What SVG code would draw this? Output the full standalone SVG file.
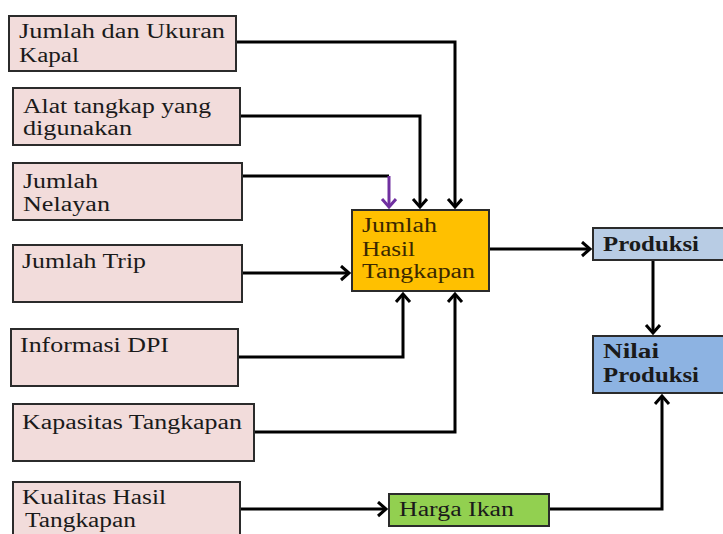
<svg xmlns="http://www.w3.org/2000/svg" width="723" height="534" viewBox="0 0 723 534">
<style>
.n{stroke:#2b2b2b;stroke-width:2}
.p{fill:#f2dcdb}
.t{font-family:"Liberation Serif",serif;font-size:20.5px;fill:#1a1a1a}
.b{font-weight:bold}
.c{fill:none;stroke:#000;stroke-width:3}
</style>
<defs>
<marker id="a" markerUnits="userSpaceOnUse" markerWidth="14" markerHeight="18" refX="10" refY="8" orient="auto"><path d="M2,1 L10,8 L2,15" fill="none" stroke="#000" stroke-width="3" stroke-linejoin="miter"/></marker>
<marker id="ap" markerUnits="userSpaceOnUse" markerWidth="14" markerHeight="18" refX="10" refY="8" orient="auto"><path d="M2,1 L10,8 L2,15" fill="none" stroke="#7030a0" stroke-width="3"/></marker>
</defs>
<g id="connectors">
<path class="c" d="M236,42 H455 V207" marker-end="url(#a)"/>
<path class="c" d="M240,116 H420 V207" marker-end="url(#a)"/>
<path class="c" d="M242,176 H389"/>
<path d="M389,176 V207" fill="none" stroke="#7030a0" stroke-width="3" marker-end="url(#ap)"/>
<path class="c" d="M242,273 H349" marker-end="url(#a)"/>
<path class="c" d="M238,357 H403 V294" marker-end="url(#a)"/>
<path class="c" d="M254,432 H455 V294" marker-end="url(#a)"/>
<path class="c" d="M489,249 H590" marker-end="url(#a)"/>
<path class="c" d="M653,260 V333" marker-end="url(#a)"/>
<path class="c" d="M240,509 H386" marker-end="url(#a)"/>
<path class="c" d="M549,509 H662 V396" marker-end="url(#a)"/>
</g>
<g id="n1"><rect class="n p" x="9" y="16" width="227" height="55"/><text class="t" x="19" y="38" textLength="206" lengthAdjust="spacingAndGlyphs">Jumlah dan Ukuran</text><text class="t" x="19" y="62" textLength="60" lengthAdjust="spacingAndGlyphs">Kapal</text></g>
<g id="n2"><rect class="n p" x="13" y="88" width="227" height="57"/><text class="t" x="23" y="113" textLength="188" lengthAdjust="spacingAndGlyphs">Alat tangkap yang</text><text class="t" x="23" y="135" textLength="109" lengthAdjust="spacingAndGlyphs">digunakan</text></g>
<g id="n3"><rect class="n p" x="13" y="163" width="229" height="57"/><text class="t" x="23" y="188" textLength="75" lengthAdjust="spacingAndGlyphs">Jumlah</text><text class="t" x="23" y="211" textLength="87" lengthAdjust="spacingAndGlyphs">Nelayan</text></g>
<g id="n4"><rect class="n p" x="13" y="245" width="229" height="57"/><text class="t" x="22" y="268" textLength="124" lengthAdjust="spacingAndGlyphs">Jumlah Trip</text></g>
<g id="n5"><rect class="n p" x="11" y="329" width="227" height="57"/><text class="t" x="20" y="352" textLength="149" lengthAdjust="spacingAndGlyphs">Informasi DPI</text></g>
<g id="n6"><rect class="n p" x="13" y="404" width="241" height="57"/><text class="t" x="22" y="429" textLength="220" lengthAdjust="spacingAndGlyphs">Kapasitas Tangkapan</text></g>
<g id="n7"><rect class="n p" x="13" y="482" width="227" height="60"/><text class="t" x="22" y="504" textLength="144" lengthAdjust="spacingAndGlyphs">Kualitas Hasil</text><text class="t" x="25" y="527" textLength="111" lengthAdjust="spacingAndGlyphs">Tangkapan</text></g>
<g id="jht"><rect class="n" x="352" y="210" width="137" height="81" fill="#ffc000"/><text class="t" x="362" y="232" textLength="75" lengthAdjust="spacingAndGlyphs" style="fill:#3a2800">Jumlah</text><text class="t" x="362" y="256" textLength="53" lengthAdjust="spacingAndGlyphs" style="fill:#3a2800">Hasil</text><text class="t" x="362" y="278" textLength="113" lengthAdjust="spacingAndGlyphs" style="fill:#3a2800">Tangkapan</text></g>
<g id="produksi"><rect class="n" x="593" y="228" width="140" height="32" fill="#b8cce4"/><text class="t b" x="603" y="251" textLength="96" lengthAdjust="spacingAndGlyphs">Produksi</text></g>
<g id="nilai"><rect class="n" x="593" y="336" width="140" height="57" fill="#8db3e2"/><text class="t b" x="603" y="358" textLength="56" lengthAdjust="spacingAndGlyphs">Nilai</text><text class="t b" x="603" y="382" textLength="96" lengthAdjust="spacingAndGlyphs">Produksi</text></g>
<g id="harga"><rect class="n" x="389" y="494" width="160" height="32" fill="#92d050"/><text class="t" x="399" y="516" textLength="115" lengthAdjust="spacingAndGlyphs">Harga Ikan</text></g>
</svg>
